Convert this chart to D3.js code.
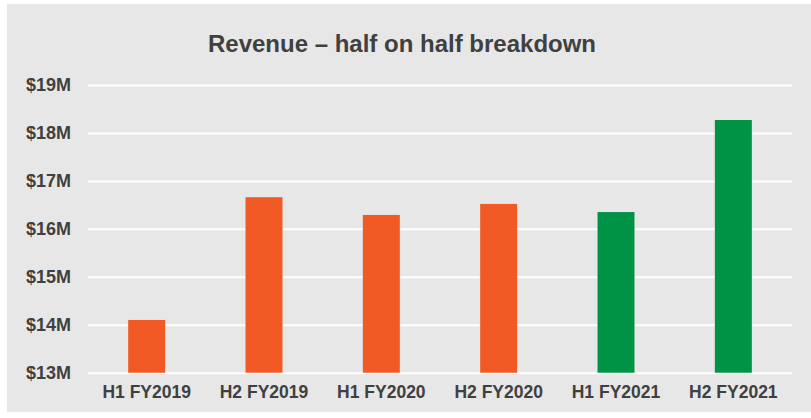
<!DOCTYPE html>
<html><head><meta charset="utf-8">
<script src="https://cdn.jsdelivr.net/npm/d3@7"></script>
<style>body{margin:0;background:#fff}svg{display:block}text{font-family:"Liberation Sans",Arial,sans-serif}</style>
</head><body>
<svg id="c" width="811" height="418"></svg>
<script>
const categories = ["H1 FY2019","H2 FY2019","H1 FY2020","H2 FY2020","H1 FY2021","H2 FY2021"];
const revenue = [14.10, 16.66, 16.29, 16.52, 16.35, 18.27];
const barColors = ["#f15a24","#f15a24","#f15a24","#f15a24","#009245","#009245"];
const yTicks = [13,14,15,16,17,18,19];
const title = "Revenue \u2013 half on half breakdown";

const svg = d3.select("#c");
svg.append("rect").attr("x",7).attr("y",4).attr("width",804).attr("height",408).attr("fill","#e7e7e7");

const x = d3.scaleBand().domain(categories).range([88,792]).padding(0);
const y = d3.scaleLinear().domain([13,19]).range([372.7,85]);

svg.append("text").attr("x",402).attr("y",52).attr("text-anchor","middle")
  .attr("font-size",24).attr("font-weight","bold").attr("fill","#404040").text(title);

const yAxis = d3.axisLeft(y).tickValues(yTicks).tickSize(-(792-88)).tickPadding(17).tickFormat(d=>"$"+d+"M");
const gy = svg.append("g").attr("transform","translate(88,0)").call(yAxis);
gy.select(".domain").remove();
gy.selectAll(".tick line").attr("stroke","#ffffff").attr("stroke-width",2);
gy.selectAll(".tick text").attr("font-size",18).attr("font-weight","bold").attr("fill","#404040").attr("font-family","Liberation Sans, Arial, sans-serif");

const bw = x.bandwidth()*0.315;
svg.append("g").selectAll("rect").data(categories).join("rect")
  .attr("x",(d)=>x(d)+x.bandwidth()/2-bw/2)
  .attr("width",bw)
  .attr("y",(d,i)=>y(revenue[i]))
  .attr("height",(d,i)=>y(13)-y(revenue[i]))
  .attr("fill",(d,i)=>barColors[i]);

const xAxis = d3.axisBottom(x).tickSize(0).tickPadding(13);
const gx = svg.append("g").attr("transform","translate(0,373)").call(xAxis);
gx.select(".domain").remove();
gx.selectAll(".tick text").attr("font-size",17.5).attr("font-weight","bold").attr("fill","#404040").attr("font-family","Liberation Sans, Arial, sans-serif");
</script>
</body></html>
